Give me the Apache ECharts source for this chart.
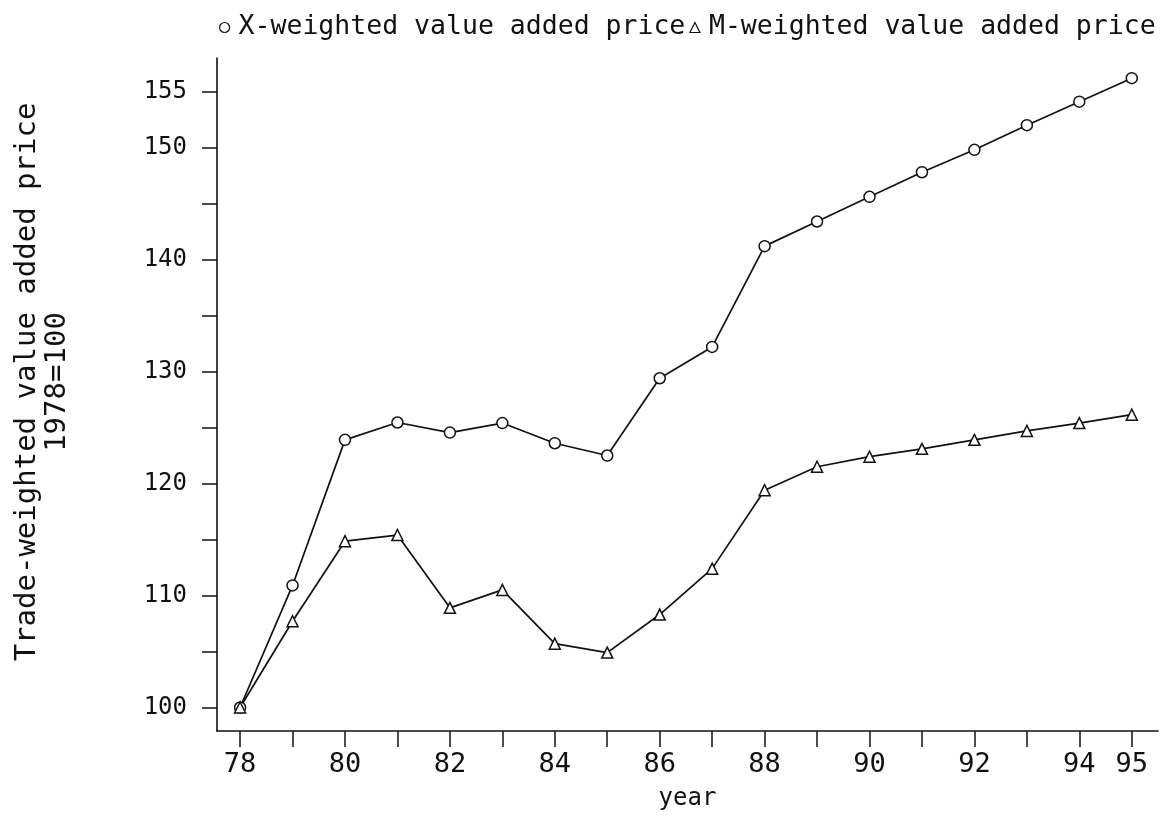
<!DOCTYPE html>
<html>
<head>
<meta charset="utf-8">
<script src="https://cdn.jsdelivr.net/npm/echarts@6/dist/echarts.min.js"></script>
<style>
html,body{margin:0;padding:0;background:#fff;}
#c{width:1165px;height:816px;}
</style>
</head>
<body>
<div id="c"></div>
<script>
// Data
const years = [78,79,80,81,82,83,84,85,86,87,88,89,90,91,92,93,94,95];
const xWeighted = [100,110.9,123.9,125.45,124.55,125.4,123.6,122.5,129.4,132.2,141.2,143.4,145.6,147.8,149.8,152.0,154.1,156.2];
const mWeighted = [100,107.7,114.85,115.4,108.9,110.5,105.7,104.9,108.3,112.4,119.4,121.5,122.4,123.1,123.9,124.7,125.4,126.15];
const xTickValues = [78,79,80,81,82,83,84,85,86,87,88,89,90,91,92,93,94,95];
const xLabelValues = [78,80,82,84,86,88,90,92,94,95];
const yTickValues = [100,105,110,115,120,125,130,135,140,145,150,155];
const yLabelValues = [100,110,120,130,140,150,155];
const seriesNames = ['X-weighted value added price','M-weighted value added price'];

const FONT = 'DejaVu Sans Mono';
const INK = '#111';

const chart = echarts.init(document.getElementById('c'), null, {renderer:'canvas'});
chart.setOption({
  backgroundColor:'#fff',
  animation:false,
  grid:{left:217, right:7, top:58, bottom:82, containLabel:false},
  legend:{
    left:214, top:9,
    itemWidth:10, itemHeight:10, itemGap:4,
    textStyle:{fontFamily:FONT, fontSize:26.5, color:INK, padding:[0,0,0,4]},
    data:[
      {name:seriesNames[0], icon:'circle', itemStyle:{color:'#fff', borderColor:INK, borderWidth:1.2}},
      {name:seriesNames[1], icon:'triangle', itemStyle:{color:'#fff', borderColor:INK, borderWidth:1.2}}
    ]
  },
  xAxis:{
    type:'value', min:77.56, max:95.5,
    name:'year', nameLocation:'middle', nameGap:56,
    nameTextStyle:{fontFamily:FONT, fontSize:24, color:INK},
    axisLine:{show:true, onZero:false, lineStyle:{color:INK, width:1.6}},
    axisTick:{show:true, inside:false, length:16, customValues:xTickValues, lineStyle:{color:INK, width:1.5}},
    axisLabel:{show:true, customValues:xLabelValues, margin:20, fontFamily:FONT, fontSize:27, color:INK,
      formatter:v=>String(Math.round(v))},
    splitLine:{show:false}
  },
  yAxis:{
    type:'value', min:97.9, max:158,
    axisLine:{show:true, onZero:false, lineStyle:{color:INK, width:1.6}},
    axisTick:{show:true, inside:false, length:15, customValues:yTickValues, lineStyle:{color:INK, width:1.5}},
    axisLabel:{show:true, customValues:yLabelValues, margin:30, fontFamily:FONT, fontSize:24, color:INK,
      formatter:v=>String(Math.round(v))},
    splitLine:{show:false}
  },
  graphic:[
    {type:'text', x:42, y:382, rotation:Math.PI/2,
     style:{text:'Trade-weighted value added price\n1978=100', fontFamily:FONT, fontSize:29, fill:INK,
       textAlign:'center', textVerticalAlign:'middle', lineHeight:30}}
  ],
  series:[
    {name:seriesNames[0], type:'line', data:years.map((y,i)=>[y,xWeighted[i]]),
     symbol:'circle', symbolSize:11, showAllSymbol:true,
     lineStyle:{color:INK, width:1.7}, itemStyle:{color:'#fff', borderColor:INK, borderWidth:1.5}},
    {name:seriesNames[1], type:'line', data:years.map((y,i)=>[y,mWeighted[i]]),
     symbol:'triangle', symbolSize:11, showAllSymbol:true,
     lineStyle:{color:INK, width:1.7}, itemStyle:{color:'#fff', borderColor:INK, borderWidth:1.5}}
  ]
});
</script>
</body>
</html>
